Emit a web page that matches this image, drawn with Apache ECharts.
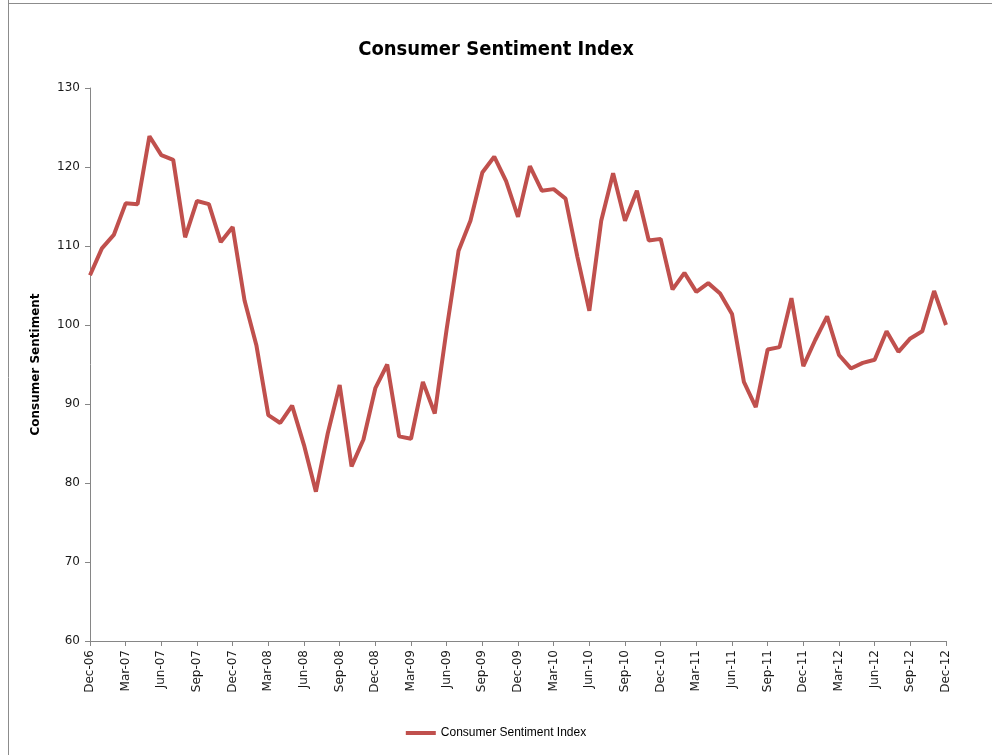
<!DOCTYPE html>
<html>
<head>
<meta charset="utf-8">
<script src="https://cdn.jsdelivr.net/npm/echarts@6/dist/echarts.min.js"></script>
<style>
html,body{margin:0;padding:0;background:#fff;}
#chart{width:992px;height:755px;}
</style>
</head>
<body>
<div id="chart"></div>
<script>
const months = ['Dec-06','Jan-07','Feb-07','Mar-07','Apr-07','May-07','Jun-07','Jul-07','Aug-07','Sep-07','Oct-07','Nov-07',
'Dec-07','Jan-08','Feb-08','Mar-08','Apr-08','May-08','Jun-08','Jul-08','Aug-08','Sep-08','Oct-08','Nov-08',
'Dec-08','Jan-09','Feb-09','Mar-09','Apr-09','May-09','Jun-09','Jul-09','Aug-09','Sep-09','Oct-09','Nov-09',
'Dec-09','Jan-10','Feb-10','Mar-10','Apr-10','May-10','Jun-10','Jul-10','Aug-10','Sep-10','Oct-10','Nov-10',
'Dec-10','Jan-11','Feb-11','Mar-11','Apr-11','May-11','Jun-11','Jul-11','Aug-11','Sep-11','Oct-11','Nov-11',
'Dec-11','Jan-12','Feb-12','Mar-12','Apr-12','May-12','Jun-12','Jul-12','Aug-12','Sep-12','Oct-12','Nov-12','Dec-12'];

const sentiment = [106.3,109.7,111.4,115.4,115.3,123.9,121.5,120.9,111.1,115.7,115.3,110.5,
112.4,103.1,97.4,88.6,87.6,89.8,84.8,78.9,86.3,92.4,82.1,85.5,
92.0,95.0,85.9,85.6,92.8,88.8,99.5,109.4,113.2,119.3,121.3,118.2,
113.7,120.1,117.0,117.2,116.0,108.6,101.8,113.2,119.2,113.2,117.0,110.7,
110.9,104.5,106.6,104.2,105.3,104.0,101.4,92.8,89.6,96.9,97.2,103.4,
94.8,98.1,101.1,96.2,94.5,95.2,95.6,99.2,96.6,98.3,99.2,104.3,100.0];

const seriesName = 'Consumer Sentiment Index';
const yTitle = 'Consumer Sentiment';

const chart = echarts.init(document.getElementById('chart'), null, {renderer:'canvas'});
chart.setOption({
  animation:false,
  backgroundColor:'#fff',
  graphic:[
    {type:'line', shape:{x1:8.5,y1:0,x2:8.5,y2:755}, style:{stroke:'#8c8c8c',lineWidth:1}},
    {type:'line', shape:{x1:8,y1:3.5,x2:992,y2:3.5}, style:{stroke:'#8c8c8c',lineWidth:1}}
  ],
  title:{
    text:'Consumer Sentiment Index',
    left:'center', top:35,
    textStyle:{fontFamily:'DejaVu Sans Condensed', fontWeight:'bold', fontSize:20, color:'#000'}
  },
  legend:{
    bottom:11, left:'center',
    itemWidth:30, itemHeight:4,
    icon:'rect',
    textStyle:{fontFamily:'Liberation Sans', fontSize:12, color:'#000'},
    data:[seriesName]
  },
  grid:{left:90, right:46, top:88, bottom:114},
  xAxis:{
    type:'category',
    data:months,
    boundaryGap:false,
    axisLine:{lineStyle:{color:'#868686', width:1}},
    axisTick:{interval:2, length:5, lineStyle:{color:'#868686'}},
    axisLabel:{interval:2, rotate:90, fontFamily:'DejaVu Sans', fontSize:12, color:'#1a1a1a', margin:9}
  },
  yAxis:{
    type:'value',
    min:60, max:130, interval:10,
    name:yTitle,
    nameLocation:'middle',
    nameGap:48,
    nameRotate:90,
    nameTextStyle:{fontFamily:'DejaVu Sans', fontWeight:'bold', fontSize:12, color:'#000'},
    axisLine:{show:true, lineStyle:{color:'#868686', width:1}},
    axisTick:{show:true, length:5, lineStyle:{color:'#868686'}},
    splitLine:{show:false},
    axisLabel:{fontFamily:'DejaVu Sans', fontSize:12, color:'#1a1a1a', margin:10}
  },
  series:[{
    name:seriesName,
    type:'line',
    data:sentiment,
    symbol:'none',
    lineStyle:{color:'#C0504D', width:4},
    itemStyle:{color:'#C0504D'}
  }]
});
</script>
</body>
</html>
